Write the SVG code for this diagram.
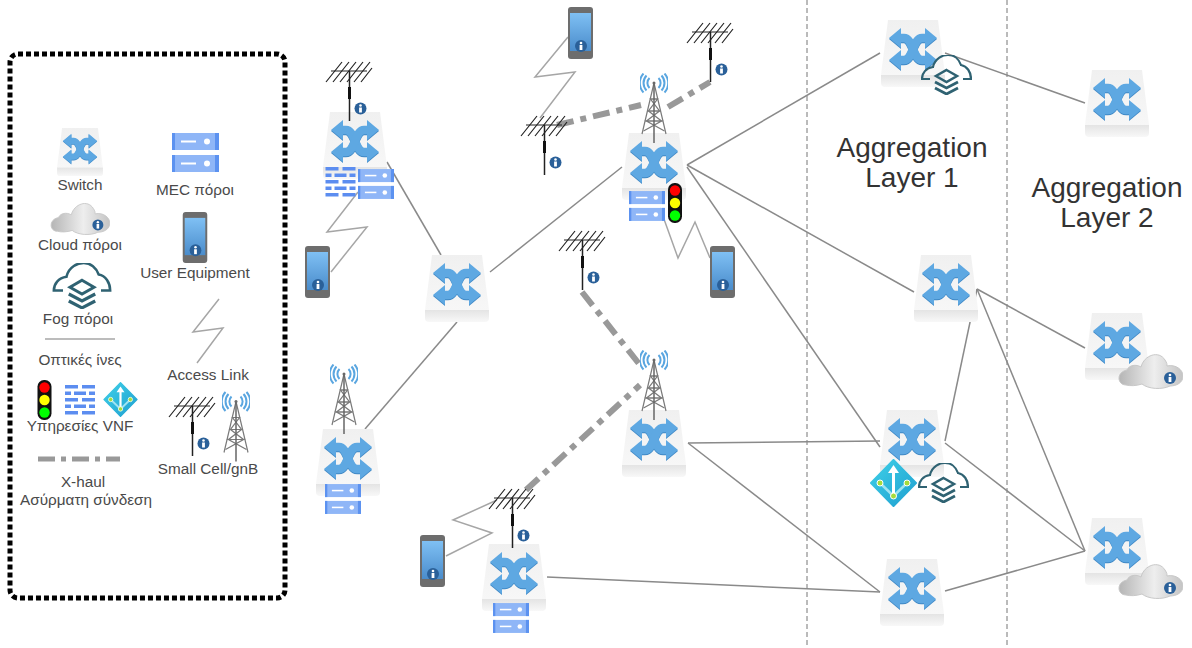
<svg xmlns="http://www.w3.org/2000/svg" width="1192" height="648" viewBox="0 0 1192 648">
<style>
text{font-family:"Liberation Sans",Arial,sans-serif;text-anchor:middle}
.lg{font-size:15.3px;fill:#4a4a4a}
.big{font-size:28px;fill:#333}
.fib{fill:none;stroke:#8a8a8a;stroke-width:1.5}
.acc{fill:none;stroke:#a6a6a6;stroke-width:1.5}
.xh{fill:none;stroke:#999;stroke-width:6;stroke-dasharray:17 7 6 7}
.sep{fill:none;stroke:#777;stroke-width:1;stroke-dasharray:5 3}
</style>
<defs>
<linearGradient id="gTop" x1="0" y1="0" x2="0" y2="1"><stop offset="0" stop-color="#f0f0f0"/><stop offset="1" stop-color="#f7f7f7"/></linearGradient>
<linearGradient id="gLip" x1="0" y1="0" x2="0" y2="1"><stop offset="0" stop-color="#e4e4e4"/><stop offset="1" stop-color="#f8f8f8"/></linearGradient>
<linearGradient id="gCloud" x1="0" y1="0" x2="1" y2="0"><stop offset="0" stop-color="#b5b5b5"/><stop offset=".55" stop-color="#eeeeee"/><stop offset="1" stop-color="#c4c4c4"/></linearGradient>
<linearGradient id="gPhone" x1="0" y1="0" x2="0" y2="1"><stop offset="0" stop-color="#7fc0f4"/><stop offset="1" stop-color="#4a8ccb"/></linearGradient>
<linearGradient id="gVnf" x1="0" y1="0" x2="1" y2="1"><stop offset="0" stop-color="#3fd0e8"/><stop offset="1" stop-color="#1e9fd0"/></linearGradient>
<symbol id="info" viewBox="0 0 12 12" overflow="visible">
<circle cx="6" cy="6" r="6" fill="#2a6099"/><circle cx="6" cy="3" r="1.3" fill="#fff"/><rect x="4.6" y="5" width="2.8" height="5" fill="#fff"/>
</symbol>
<symbol id="sw" viewBox="0 0 64 67">
<path d="M7 0H57L64 55H0Z" fill="url(#gTop)"/>
<path d="M0 55H64V63Q64 67 60 67H4Q0 67 0 63Z" fill="url(#gLip)"/>
<g fill="none" stroke="#3f88c5" stroke-width="8.500" transform="translate(0 1)"><path d="M18 18H23C32 18 32 40 41 40H46"/><path d="M46 18H41C32 18 32 40 23 40H18"/></g>
<g fill="#3f88c5" transform="translate(0 1)"><path d="M8 18L20 8V28Z"/><path d="M56 18L44 8V28Z"/><path d="M8 40L20 30V50Z"/><path d="M56 40L44 30V50Z"/></g>
<g fill="none" stroke="#5ea8e2" stroke-width="8.500"><path d="M18 18H23C32 18 32 40 41 40H46"/><path d="M46 18H41C32 18 32 40 23 40H18"/></g>
<g fill="#5ea8e2"><path d="M8 18L20 8V28Z"/><path d="M56 18L44 8V28Z"/><path d="M8 40L20 30V50Z"/><path d="M56 40L44 30V50Z"/></g>
</symbol>
<symbol id="srv" viewBox="0 0 47 39">
<g fill="#8fb6f7"><rect y="0" width="47" height="17"/><rect y="22" width="47" height="17"/></g>
<g fill="#5c92f0"><rect y="0" width="3" height="17"/><rect x="43" y="0" width="4" height="17"/><rect y="22" width="3" height="17"/><rect x="43" y="22" width="4" height="17"/></g>
<g fill="#fff"><rect x="9" y="7.500" width="15" height="2"/><circle cx="35" cy="8.500" r="3"/><rect x="9" y="29.500" width="15" height="2"/><circle cx="35" cy="30.500" r="3"/></g>
</symbol>
<symbol id="fw" viewBox="0 0 30 30">
<g fill="#5c8df0"><rect x="0" y="0" width="13" height="3.500"/><rect x="17" y="0" width="13" height="3.500"/><rect x="0" y="6.500" width="6" height="3.500"/><rect x="9" y="6.500" width="12" height="3.500"/><rect x="24" y="6.500" width="6" height="3.500"/><rect x="0" y="13" width="13" height="3.500"/><rect x="17" y="13" width="13" height="3.500"/><rect x="0" y="19.500" width="6" height="3.500"/><rect x="9" y="19.500" width="12" height="3.500"/><rect x="24" y="19.500" width="6" height="3.500"/><rect x="0" y="26" width="13" height="3.500"/><rect x="17" y="26" width="13" height="3.500"/></g>
</symbol>
<symbol id="tl" viewBox="0 0 14 40">
<rect width="14" height="40" rx="6.500" fill="#111"/><circle cx="7" cy="7.500" r="5.200" fill="#f00"/><circle cx="7" cy="20" r="5.200" fill="#ff0"/><circle cx="7" cy="32.500" r="5.200" fill="#0f0"/>
</symbol>
<symbol id="vnf" viewBox="0 0 47 48">
<path d="M23.500 1L46 24L23.500 47L1 24Z" fill="url(#gVnf)" stroke="url(#gVnf)" stroke-width="2" stroke-linejoin="round"/>
<g fill="none" stroke="#9fe3f2" stroke-width="2.500"><path d="M10 24L23.500 37"/><path d="M37 24L23.500 37"/></g>
<path d="M23.500 37V12" stroke="#fff" stroke-width="3" fill="none"/><path d="M23.500 6L29 14H18Z" fill="#fff"/>
<g fill="#a6dc3c" stroke="#fff" stroke-width="1"><circle cx="10" cy="24" r="3"/><circle cx="37" cy="24" r="3"/><circle cx="23.500" cy="37" r="3"/></g>
</symbol>
<symbol id="fog" viewBox="0 0 51 40">
<path d="M9 24H1C1 18 5 13 12 12C14 3 22 0 27 0C33 0 38 4 40 10C46 11 50 17 50 24H42" fill="none" stroke="#2f6272" stroke-width="2.200"/>
<path d="M25.500 15L36 21L25.500 27L15 21Z" fill="none" stroke="#2f6272" stroke-width="2.500"/>
<path d="M14 27L25.500 33L37 27" fill="none" stroke="#2f6272" stroke-width="2.800"/>
<path d="M14 33L25.500 39L37 33" fill="none" stroke="#2f6272" stroke-width="2.800"/>
</symbol>
<symbol id="cloud" viewBox="0 0 65 36">
<path d="M8 32C-1 32 -2 19 9 17C11 12 18 11 23 14C26 2 41 -3 47 7C49 10 49 11 49 13C58 11 65 17 65 23C65 30 58 33 52 33C44 37 30 36 24 31C18 33 12 33 8 32Z" fill="url(#gCloud)" stroke="#c8c8c8"/>
<use href="#info" x="46" y="19" width="12" height="12"/>
</symbol>
<symbol id="ph" viewBox="0 0 25 52">
<rect width="25" height="52" rx="3" fill="#6d6d6d"/><rect x="2" y="6" width="21" height="38" fill="url(#gPhone)"/>
<use href="#info" x="7" y="33" width="12" height="12"/>
</symbol>
<symbol id="ant" viewBox="0 0 47 59" overflow="visible">
<g stroke="#222" stroke-width="1.200" fill="none"><path d="M6 9H42"/><path d="M1 20L17 0M8 20L24 0M15 20L31 0M22 20L38 0M29 20L45 0M36 20L47 6"/></g>
<path d="M24.500 9V59" stroke="#222" stroke-width="1.500"/><rect x="23" y="25" width="3" height="12" fill="#111"/>
<use href="#info" x="29.500" y="40.500" width="12" height="12"/>
</symbol>
<symbol id="tw" viewBox="0 0 28 70">
<g fill="none" stroke="#5aa6e0" stroke-width="2"><path d="M9.500 5A7 7 0 0 0 9.500 15"/><path d="M6.500 2.500A11 11 0 0 0 6.500 17.500"/><path d="M3.500 0.500A14 14 0 0 0 3.500 19.500"/><path d="M18.500 5A7 7 0 0 1 18.500 15"/><path d="M21.500 2.500A11 11 0 0 1 21.500 17.500"/><path d="M24.500 0.500A14 14 0 0 1 24.500 19.500"/></g>
<circle cx="14" cy="10" r="1.500" fill="#666"/>
<g fill="none" stroke="#7a7a7a" stroke-width="1.200"><path d="M14 10L2 61M14 10L26 61"/><path d="M10.500 26L17.500 26L8.500 38L19.500 38L6.500 48L21.500 48L3.500 58"/><path d="M17.500 26L10.500 26L19.500 38L8.500 38L21.500 48L6.500 48L24.500 58"/></g>
<path d="M14 10V70" stroke="#666" stroke-width="1.500"/>
</symbol>
</defs>
<rect width="1192" height="648" fill="#fff"/>

<g id="separators">
<path class="sep" d="M807 0V648"/><path class="sep" d="M1007 0V648"/>
</g>

<g id="connectors">
<path class="fib" d="M387 162L441 255"/>
<path class="fib" d="M490 272L622 167"/>
<path class="fib" d="M365 429L457 322"/>
<path class="fib" d="M687 165L880 53"/>
<path class="fib" d="M687 165L914 292"/>
<path class="fib" d="M687 167L880 447"/>
<path class="fib" d="M688 443L880 441"/>
<path class="fib" d="M688 443L880 592"/>
<path class="fib" d="M547 577L880 592"/>
<path class="fib" d="M945 53L1085 103"/>
<path class="fib" d="M977 289L1085 348"/>
<path class="fib" d="M977 289L945 441"/>
<path class="fib" d="M977 289L1085 551"/>
<path class="fib" d="M945 443L1085 551"/>
<path class="fib" d="M945 591L1085 551"/>
<path class="acc" d="M358 192L327 232L367 227L331 272"/>
<path class="acc" d="M568 37L535 77L575 72L540 118"/>
<path class="acc" d="M660 208L678 258L695 222L710 258"/>
<path class="acc" d="M446 556L492 533L453 520L497 500"/>
<path class="xh" d="M557 125L641 105"/>
<path class="xh" d="M668 107L710 82"/>
<path class="xh" d="M582 292L640 365"/>
<path class="xh" d="M526 490L640 385"/>
</g>

<g id="legend">
<rect x="10" y="54" width="275" height="544" rx="8" fill="none" stroke="#000" stroke-width="5" stroke-dasharray="5 3"/>
<use href="#sw" x="57" y="128" width="46" height="48"/>
<text class="lg" x="80" y="190">Switch</text>
<use href="#srv" x="172" y="133" width="47" height="39"/>
<text class="lg" x="195" y="195">MEC πόροι</text>
<use href="#cloud" x="50" y="202" width="60" height="33"/>
<text class="lg" x="80" y="250">Cloud πόροι</text>
<use href="#ph" x="182" y="212" width="26" height="51"/>
<text class="lg" x="195" y="278">User Equipment</text>
<use href="#fog" x="52" y="263" width="60" height="46"/>
<text class="lg" x="78" y="324">Fog πόροι</text>
<path class="acc" d="M219 299L193 332L223 328L197 363"/>
<path d="M45 339H115" stroke="#a6a6a6" stroke-width="1.500" fill="none"/>
<text class="lg" x="80" y="365">Οπτικές ίνες</text>
<text class="lg" x="208" y="380">Access Link</text>
<use href="#tl" x="37" y="380" width="15" height="40"/>
<use href="#fw" x="65" y="385" width="30" height="30"/>
<use href="#vnf" x="103" y="382" width="35" height="35"/>
<text class="lg" x="80" y="431">Υπηρεσίες VNF</text>
<use href="#ant" x="168" y="397" width="47" height="59"/>
<use href="#tw" x="222" y="391" width="28" height="71"/>
<text class="lg" x="208" y="474">Small Cell/gnB</text>
<path d="M38 459H120" fill="none" stroke="#999" stroke-width="5" stroke-dasharray="17 6 5 6"/>
<text class="lg" x="83" y="487">X-haul</text>
<text class="lg" x="86" y="505">Ασύρματη σύνδεση</text>
</g>

<g id="s1"><use href="#sw" x="323" y="112" width="64" height="67"/><use href="#fw" x="325" y="167" width="31" height="30"/><use href="#srv" x="358" y="169" width="36" height="30"/><use href="#ant" x="325" y="62" width="47" height="59"/></g>
<g id="s2"><use href="#sw" x="425" y="255" width="64" height="67"/></g>
<g id="s3"><use href="#sw" x="622" y="133" width="64" height="67"/><use href="#tw" x="640" y="73" width="28" height="70"/><use href="#srv" x="629" y="191" width="36" height="30"/><use href="#tl" x="668" y="183" width="14" height="40"/></g>
<g id="s4"><use href="#sw" x="316" y="429" width="64" height="67"/><use href="#tw" x="330" y="364" width="28" height="70"/><use href="#srv" x="325" y="484" width="36" height="30"/></g>
<g id="s5"><use href="#sw" x="622" y="410" width="64" height="67"/><use href="#tw" x="640" y="350" width="28" height="70"/></g>
<g id="s6"><use href="#sw" x="482" y="544" width="64" height="67"/><use href="#srv" x="493" y="603" width="36" height="30"/><use href="#ant" x="488" y="489" width="47" height="59"/></g>
<g id="a1"><use href="#sw" x="881" y="20" width="64" height="67"/><use href="#fog" x="921" y="55" width="51" height="40"/></g>
<g id="a2"><use href="#sw" x="914" y="255" width="64" height="67"/></g>
<g id="a3"><use href="#sw" x="880" y="410" width="64" height="67"/><use href="#vnf" x="870" y="459" width="47" height="48"/><use href="#fog" x="918" y="463" width="51" height="40"/></g>
<g id="a4"><use href="#sw" x="880" y="559" width="64" height="67"/></g>
<g id="b1"><use href="#sw" x="1085" y="70" width="64" height="67"/></g>
<g id="b2"><use href="#sw" x="1085" y="313" width="64" height="67"/><use href="#cloud" x="1118" y="353" width="65" height="36"/></g>
<g id="b3"><use href="#sw" x="1085" y="518" width="64" height="67"/><use href="#cloud" x="1118" y="563" width="65" height="36"/></g>

<g id="ant2"><use href="#ant" x="520" y="116" width="47" height="59"/></g>
<g id="ant3"><use href="#ant" x="686" y="23" width="47" height="59"/></g>
<g id="ant4"><use href="#ant" x="558" y="231" width="47" height="59"/></g>
<g id="ue1"><use href="#ph" x="305" y="246" width="25" height="52"/></g>
<g id="ue2"><use href="#ph" x="568" y="7" width="25" height="52"/></g>
<g id="ue3"><use href="#ph" x="710" y="246" width="25" height="52"/></g>
<g id="ue4"><use href="#ph" x="420" y="535" width="25" height="52"/></g>

<g id="labels">
<text class="big" x="912" y="157">Aggregation</text>
<text class="big" x="912" y="187">Layer 1</text>
<text class="big" x="1107" y="197">Aggregation</text>
<text class="big" x="1107" y="227">Layer 2</text>
</g>
</svg>
